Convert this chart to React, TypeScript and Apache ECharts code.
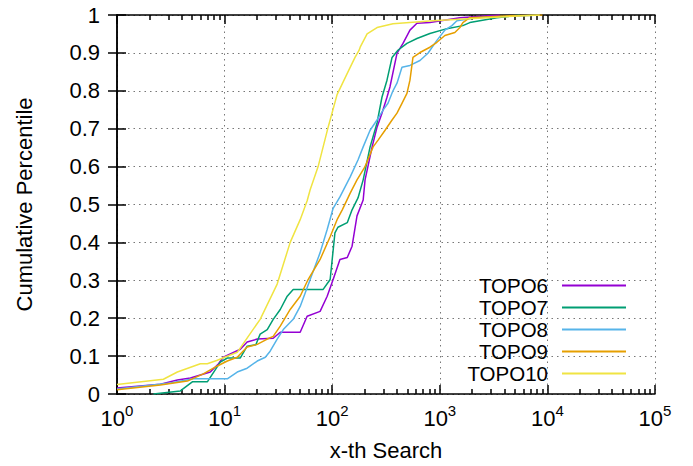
import React, { useEffect, useRef } from 'react';
import * as echarts from 'echarts';

const seriesNames = ['TOPO6', 'TOPO7', 'TOPO8', 'TOPO9', 'TOPO10'];
const seriesColors = ['#9400d3', '#009e73', '#56b4e9', '#e69f00', '#f0e442'];

const topo6: [number, number][] = [
  [1, 0.016], [2.53, 0.026], [3.64, 0.037], [4.81, 0.042], [7.36, 0.058], [8.74, 0.079],
  [9.73, 0.097], [14.0, 0.118], [16.2, 0.137], [20.1, 0.145], [28.3, 0.147], [32.9, 0.163],
  [50.4, 0.163], [58.5, 0.205], [77.2, 0.218], [89.8, 0.258], [102, 0.302], [118, 0.355],
  [138, 0.36], [153, 0.39], [170, 0.47], [194, 0.512], [202, 0.565], [235, 0.652],
  [261, 0.704], [290, 0.741], [323, 0.783], [344, 0.81], [400, 0.899], [455, 0.925],
  [528, 0.96], [613, 0.978], [809, 0.98], [1538, 0.993], [3608, 1.0],
];
const topo7: [number, number][] = [
  [2.18, 0], [3.88, 0.008], [5.01, 0.032], [6.91, 0.032], [9.12, 0.084], [10.6, 0.095],
  [14.0, 0.095], [16.2, 0.126], [19.5, 0.13], [21.4, 0.158], [24.9, 0.17], [28.3, 0.197],
  [32.9, 0.223], [38.2, 0.258], [43.4, 0.276], [82.4, 0.276], [95.7, 0.302], [106, 0.425],
  [113, 0.44], [138, 0.452], [153, 0.486], [170, 0.512], [174, 0.518], [194, 0.565],
  [225, 0.652], [261, 0.715], [290, 0.783], [323, 0.828], [360, 0.888], [408, 0.907],
  [495, 0.925], [613, 0.938], [809, 0.951], [1164, 0.964], [1638, 0.972], [1901, 0.98],
  [3388, 0.993], [5532, 1.0],
];
const topo8: [number, number][] = [
  [1, 0.013], [3.14, 0.029], [5.12, 0.04], [10.6, 0.04], [13.1, 0.058], [16.2, 0.068],
  [20.1, 0.087], [23.9, 0.097], [26.5, 0.113], [30.8, 0.145], [35.1, 0.17], [43.4, 0.197],
  [50.4, 0.231], [62.4, 0.302], [77.2, 0.373], [89.8, 0.434], [102, 0.49], [118, 0.52],
  [147, 0.573], [174, 0.618], [194, 0.652], [225, 0.696], [261, 0.723], [297, 0.749],
  [330, 0.767], [367, 0.8], [400, 0.82], [445, 0.862], [528, 0.867], [654, 0.88],
  [776, 0.899], [940, 0.933], [1115, 0.96], [1295, 0.972], [1442, 0.985], [2208, 0.993],
  [8488, 1.0],
];
const topo9: [number, number][] = [
  [1, 0.011], [2.53, 0.024], [4.51, 0.034], [6.34, 0.053], [8.56, 0.074], [10.6, 0.087],
  [13.1, 0.097], [16.2, 0.124], [20.1, 0.131], [24.9, 0.145], [28.3, 0.152], [32.9, 0.179],
  [40.7, 0.223], [50.4, 0.258], [59.7, 0.302], [77.2, 0.355], [95.7, 0.415], [111, 0.46],
  [124, 0.486], [147, 0.53], [170, 0.565], [202, 0.6], [240, 0.652], [267, 0.67],
  [310, 0.696], [360, 0.723], [400, 0.741], [445, 0.767], [495, 0.793], [528, 0.828],
  [563, 0.888], [654, 0.901], [809, 0.915], [940, 0.928], [1115, 0.946], [1380, 0.954],
  [1538, 0.967], [1638, 0.98], [1901, 0.993], [4500, 0.998], [9000, 1.0],
];
const topo10: [number, number][] = [
  [1, 0.025], [2.7, 0.039], [3.64, 0.058], [5.95, 0.08], [6.91, 0.08], [8.56, 0.089],
  [10, 0.097], [13.1, 0.11], [21.4, 0.197], [30.8, 0.29], [40.7, 0.4], [50.4, 0.46],
  [58.5, 0.51], [62.4, 0.539], [74.0, 0.6], [91.7, 0.704], [111, 0.79], [138, 0.846],
  [163, 0.888], [178, 0.907], [182, 0.915], [211, 0.95], [261, 0.967], [367, 0.977],
  [863, 0.985], [3608, 0.995], [8488, 1.0],
];
const seriesData = [topo6, topo7, topo8, topo9, topo10];

const xMajorTicks = [1, 10, 100, 1000, 10000, 100000];
const xMinorTicks = [
  2, 3, 4, 5, 6, 7, 8, 9,
  20, 30, 40, 50, 60, 70, 80, 90,
  200, 300, 400, 500, 600, 700, 800, 900,
  2000, 3000, 4000, 5000, 6000, 7000, 8000, 9000,
  20000, 30000, 40000, 50000, 60000, 70000, 80000, 90000,
];

const FONT = 'Liberation Sans';
const FS = 22;

export default function App() {
  const ref = useRef<HTMLDivElement>(null);
  useEffect(() => {
    if (!ref.current) return;
    const chart = echarts.init(ref.current, undefined, { renderer: 'svg' });
    const minorLog = xMinorTicks.map((v) => Math.log10(v));
    const frameLine = { show: true, lineStyle: { color: '#000', width: 1.5 } };
    const gridLine = { show: true, lineStyle: { color: '#777', width: 1, type: [1.5, 4] as any } };
    const tickStyle = { color: '#000', width: 1.5 };
    const option: any = {
      animation: false,
      backgroundColor: '#fff',
      textStyle: { fontFamily: FONT },
      grid: { left: 117, right: 38, top: 15, bottom: 71, containLabel: false },
      legend: {
        orient: 'vertical',
        right: 67,
        top: 275,
        align: 'right',
        padding: 0,
        itemGap: 1,
        itemWidth: 64,
        itemHeight: 2,
        icon: 'rect',
        data: seriesNames.map((n, i) => ({
          name: n,
          itemStyle: { color: seriesColors[i] },
        })),
        textStyle: { fontSize: 20.5, lineHeight: 21, fontFamily: FONT, color: '#000', padding: [0, 9, 0, 0] },
      },
      xAxis: [
        {
          type: 'log',
          logBase: 10,
          min: xMajorTicks[0],
          max: xMajorTicks[xMajorTicks.length - 1],
          position: 'bottom',
          axisLine: frameLine,
          axisTick: { show: true, inside: true, length: 9, lineStyle: tickStyle },
          axisLabel: {
            margin: 9,
            color: '#000',
            formatter: (v: number) => `{b|10}{s|${Math.round(Math.log10(v))}}`,
            rich: {
              b: { fontSize: FS, fontFamily: FONT, color: '#000' },
              s: { fontSize: 15, fontFamily: FONT, color: '#000', padding: [0, 0, 15, 0] },
            },
          },
          splitLine: gridLine,
          name: 'x-th Search',
          nameLocation: 'middle',
          nameGap: 45,
          nameTextStyle: { fontSize: FS, fontFamily: FONT, color: '#000' },
        },
        {
          type: 'value',
          min: 0,
          max: 5,
          position: 'bottom',
          axisLine: { show: false },
          axisLabel: { show: false },
          splitLine: { show: false },
          axisTick: { show: true, inside: true, length: 5, customValues: minorLog, lineStyle: tickStyle },
        },
        {
          type: 'log',
          logBase: 10,
          min: xMajorTicks[0],
          max: xMajorTicks[xMajorTicks.length - 1],
          position: 'top',
          axisLine: frameLine,
          axisTick: { show: true, inside: true, length: 9, lineStyle: tickStyle },
          axisLabel: { show: false },
          splitLine: { show: false },
        },
        {
          type: 'value',
          min: 0,
          max: 5,
          position: 'top',
          axisLine: { show: false },
          axisLabel: { show: false },
          splitLine: { show: false },
          axisTick: { show: true, inside: true, length: 5, customValues: minorLog, lineStyle: tickStyle },
        },
      ],
      yAxis: [
        {
          type: 'value',
          min: 0,
          max: 1,
          interval: 0.1,
          position: 'left',
          axisLine: frameLine,
          axisTick: { show: true, inside: true, length: 9, lineStyle: tickStyle },
          axisLabel: {
            margin: 17,
            fontSize: FS,
            fontFamily: FONT,
            color: '#000',
            formatter: (v: number) => (v === 0 || v === 1 ? String(v) : v.toFixed(1)),
          },
          splitLine: gridLine,
          name: 'Cumulative Percentile',
          nameLocation: 'middle',
          nameGap: 82,
          nameTextStyle: { fontSize: FS, fontFamily: FONT, color: '#000' },
        },
        {
          type: 'value',
          min: 0,
          max: 1,
          interval: 0.1,
          position: 'right',
          axisLine: frameLine,
          axisTick: { show: true, inside: true, length: 9, lineStyle: tickStyle },
          axisLabel: { show: false },
          splitLine: { show: false },
        },
      ],
      series: seriesNames.map((n, i) => ({
        name: n,
        type: 'line',
        xAxisIndex: 0,
        yAxisIndex: 0,
        data: seriesData[i],
        symbol: 'none',
        showSymbol: false,
        lineStyle: { color: seriesColors[i], width: 1.5 },
        itemStyle: { color: seriesColors[i] },
      })),
    };
    chart.setOption(option);
    return () => chart.dispose();
  }, []);
  return (
    <div
      ref={ref}
      style={{ position: 'absolute', left: 0, top: 0, width: 693, height: 466 }}
    />
  );
}
